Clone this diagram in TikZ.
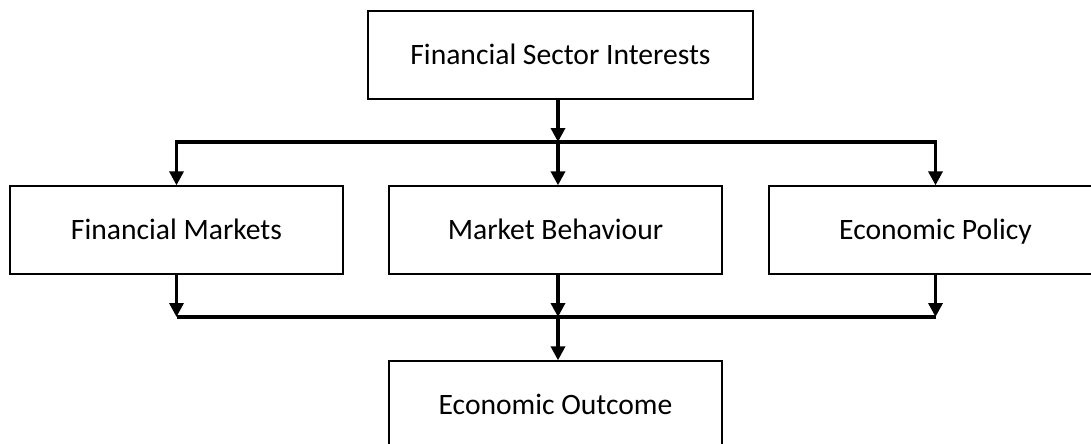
\documentclass[tikz,border=0pt]{standalone}
\usepackage{fontspec}
\setmainfont{Carlito}
\usetikzlibrary{arrows.meta}
\begin{document}
\begin{tikzpicture}[x=0.75pt,y=-0.75pt,
  box/.style={draw, line width=1pt, minimum width=249.75pt, minimum height=66pt, inner sep=0pt, text height=14.3pt, text depth=0pt, font=\fontsize{22.2}{26}\selectfont},
  wire/.style={line width=2.5pt},
  flow/.style={wire, -{Triangle[width=10.5pt,length=10.5pt]}}]
\useasboundingbox (0,0) rectangle (1091,443);
\node[box, minimum width=288.75pt] (fsi) at (560.5,55) {Financial Sector Interests};
\node[box] (fm) at (176.5,230) {Financial Markets};
\node[box] (mb) at (555.5,230) {Market Behaviour};
\node[box] (ep) at (935.5,230) {Economic Policy};
\node[box] (eo) at (555.5,405) {Economic Outcome};
\coordinate (split) at (558,142);
\coordinate (join) at (558,317);
% fan out
\draw[flow] (fsi.south -| split) -- (split);
\draw[flow] (split) -| (fm.north);
\draw[flow] (split) -| (ep.north);
\draw[flow] (split) -- (mb.north -| split);
% gather
\draw[flow] (fm.south) -- (fm.south |- join);
\draw[flow] (mb.south -| join) -- (join);
\draw[flow] (ep.south) -- (ep.south |- join);
\draw[wire] (fm.south |- join) -- (ep.south |- join);
\draw[flow] (join) -- (eo.north -| join);
\end{tikzpicture}
\end{document}
